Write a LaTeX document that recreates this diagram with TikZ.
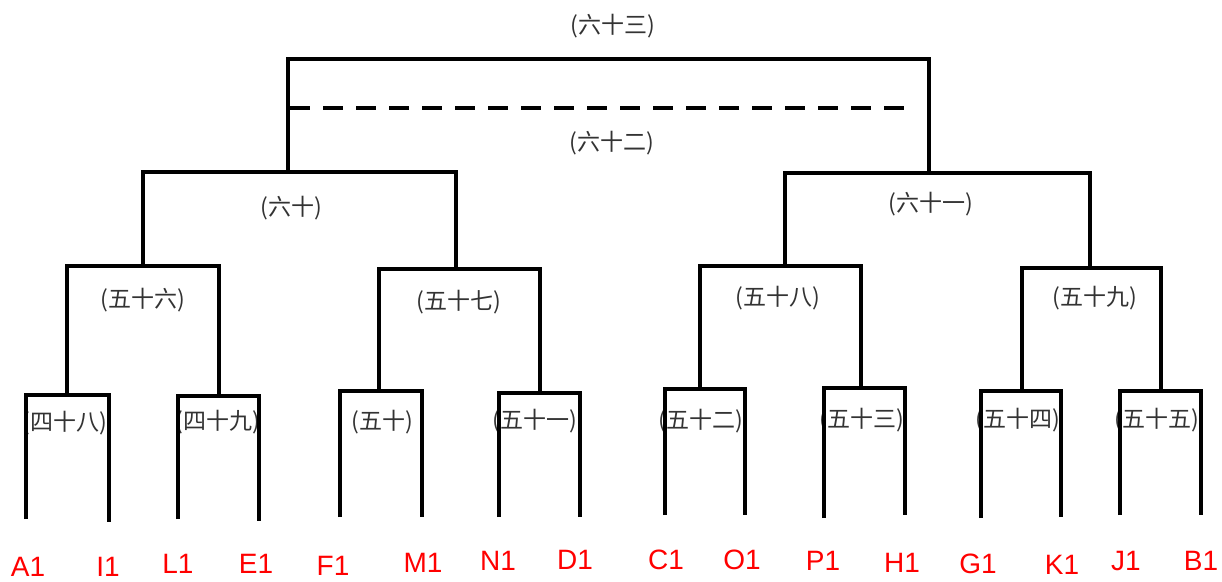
\documentclass[tikz,border=0pt]{standalone}
\usepackage{fontspec}
\setmainfont{Liberation Sans}
\newfontfamily\cjk{Noto Sans CJK SC}
\begin{document}
\begin{tikzpicture}[x=1pt,y=-1pt,
  br/.style={line width=4pt,line join=miter,black},
  dashbr/.style={line width=4.5pt,black,dash pattern=on 20pt off 13pt},
  clab/.style={font=\cjk\fontsize{23}{23}\selectfont,text=black!80,inner sep=0pt},
  leaflab/.style={font=\fontsize{28}{28}\selectfont,text=red,inner sep=0pt,anchor=base}]
\useasboundingbox (0,0) rectangle (1222,581);
% leaf line ends
\coordinate (A1b) at (26,519);   \coordinate (I1b) at (109,522);
\coordinate (L1b) at (178,519);  \coordinate (E1b) at (259,521);
\coordinate (F1b) at (340,517);  \coordinate (M1b) at (422,517);
\coordinate (N1b) at (499,517);  \coordinate (D1b) at (580,517);
\coordinate (C1b) at (665,515);  \coordinate (O1b) at (745,515);
\coordinate (P1b) at (824,518);  \coordinate (H1b) at (905,515);
\coordinate (G1b) at (981,518);  \coordinate (K1b) at (1061,517);
\coordinate (J1b) at (1120,515); \coordinate (B1b) at (1201,515);
% cluster junctions
\coordinate (c48) at (67,395);  \coordinate (c49) at (219,396);
\coordinate (c50) at (379,391); \coordinate (c51) at (540,393);
\coordinate (c52) at (700,389); \coordinate (c53) at (861,388);
\coordinate (c54) at (1022,391);\coordinate (c55) at (1161,391);
\coordinate (c56) at (143,266); \coordinate (c57) at (456,269);
\coordinate (c58) at (785,266); \coordinate (c59) at (1090,268);
\coordinate (c60) at (288,172); \coordinate (c61) at (929,173);
\coordinate (c63) at (608,59);
\coordinate (d1) at (290,108);  \coordinate (d2) at (913,108);
% cluster labels
\node[clab] (l63) at (613,26) {(六十三)};
\node[clab] (l62) at (612,143) {(六十二)};
\node[clab] (l60) at (291,208) {(六十)};
\node[clab] (l61) at (931,204) {(六十一)};
\node[clab] (l56) at (143,300) {(五十六)};
\node[clab] (l57) at (459,302) {(五十七)};
\node[clab] (l58) at (778,298) {(五十八)};
\node[clab] (l59) at (1095,298) {(五十九)};
\node[clab] (l48) at (65,423) {(四十八)};
\node[clab] (l49) at (218,422) {(四十九)};
\node[clab] (l50) at (382,422) {(五十)};
\node[clab] (l51) at (535,421) {(五十一)};
\node[clab] (l52) at (701,421) {(五十二)};
\node[clab] (l53) at (862,420) {(五十三)};
\node[clab] (l54) at (1018,420) {(五十四)};
\node[clab] (l55) at (1157,420) {(五十五)};
% leaf labels
\node[leaflab] (A1) at (28,576) {A1};
\node[leaflab] (I1) at (108,576) {I1};
\node[leaflab] (L1) at (178,573) {L1};
\node[leaflab] (E1) at (256,573) {E1};
\node[leaflab] (F1) at (333,575) {F1};
\node[leaflab] (M1) at (423,572) {M1};
\node[leaflab] (N1) at (498,570) {N1};
\node[leaflab] (D1) at (575,569) {D1};
\node[leaflab] (C1) at (666,569) {C1};
\node[leaflab] (O1) at (742,569) {O1};
\node[leaflab] (P1) at (823,570) {P1};
\node[leaflab] (H1) at (902,572) {H1};
\node[leaflab] (G1) at (978,573) {G1};
\node[leaflab] (K1) at (1062,574) {K1};
\node[leaflab] (J1) at (1126,570) {J1};
\node[leaflab] (B1) at (1201,570) {B1};
% brackets
\draw[br] (A1b) |- (c48) -| (I1b);
\draw[br] (L1b) |- (c49) -| (E1b);
\draw[br] (F1b) |- (c50) -| (M1b);
\draw[br] (N1b) |- (c51) -| (D1b);
\draw[br] (C1b) |- (c52) -| (O1b);
\draw[br] (P1b) |- (c53) -| (H1b);
\draw[br] (G1b) |- (c54) -| (K1b);
\draw[br] (J1b) |- (c55) -| (B1b);
\draw[br] (c48) |- (c56) -| (c49);
\draw[br] (c50) |- (c57) -| (c51);
\draw[br] (c52) |- (c58) -| (c53);
\draw[br] (c54) |- (c59) -| (c55);
\draw[br] (c56) |- (c60) -| (c57);
\draw[br] (c58) |- (c61) -| (c59);
\draw[br] (c60) |- (c63) -| (c61);
\draw[dashbr] (d1) -- (d2);
\end{tikzpicture}
\end{document}
